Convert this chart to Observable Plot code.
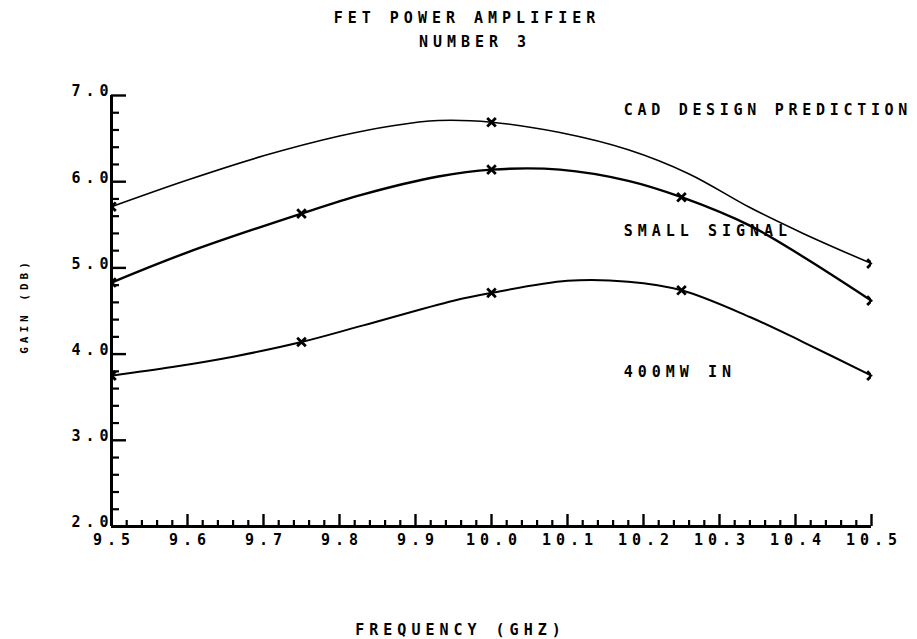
<!DOCTYPE html>
<html>
<head>
<meta charset="utf-8">
<script src="https://cdn.jsdelivr.net/npm/d3@7"></script>
<script src="https://cdn.jsdelivr.net/npm/@observablehq/plot@0.6"></script>
<style>
  body { margin: 0; background: #fff; }
  #wrap { position: relative; width: 917px; height: 639px; font-family: "DejaVu Sans Mono", monospace; font-weight: bold; color: #000; }
  .title { position: absolute; white-space: nowrap; font-size: 15px; letter-spacing: 5px; line-height: 1; transform: translate(-50%, -50%); }
  #chart { position: absolute; left: 0; top: 0; }
</style>
</head>
<body>
<div id="wrap">
  <div id="chart"></div>
  <div class="title" style="left:467px; top:18px;">FET POWER AMPLIFIER</div>
  <div class="title" style="left:475px; top:42px;">NUMBER 3</div>
</div>
<script>
// Gain (dB) vs frequency (GHz) for FET power amplifier #3

// CAD design prediction curve
const cadFreq = [9.50, 9.60, 9.70, 9.80, 9.87, 9.93, 10.00, 10.09, 10.18, 10.26, 10.34, 10.41, 10.50];
const cadGain = [5.71, 6.02, 6.30, 6.53, 6.65, 6.71, 6.69, 6.57, 6.37, 6.09, 5.70, 5.40, 5.05];

// Small-signal measured curve
const smallFreq = [9.50, 9.60, 9.75, 9.83, 9.93, 10.00, 10.09, 10.18, 10.25, 10.34, 10.41, 10.50];
const smallGain = [4.83, 5.18, 5.63, 5.85, 6.06, 6.14, 6.14, 6.01, 5.82, 5.49, 5.13, 4.62];

// 400 mW input curve
const p400Freq = [9.50, 9.58, 9.66, 9.75, 9.83, 9.95, 10.00, 10.10, 10.18, 10.25, 10.34, 10.41, 10.50];
const p400Gain = [3.75, 3.85, 3.97, 4.14, 4.33, 4.62, 4.71, 4.85, 4.84, 4.74, 4.43, 4.14, 3.75];

// Plotted measurement points (x symbols)
const cadMarkFreq = [9.50, 10.00, 10.50];
const cadMarkGain = [5.71, 6.69, 5.05];
const smallMarkFreq = [9.50, 9.75, 10.00, 10.25, 10.50];
const smallMarkGain = [4.83, 5.63, 6.14, 5.82, 4.62];
const p400MarkFreq = [9.50, 9.75, 10.00, 10.25, 10.50];
const p400MarkGain = [3.75, 4.14, 4.71, 4.74, 3.75];

// Curve annotations
const noteText = ["CAD DESIGN PREDICTION", "SMALL SIGNAL", "400MW IN"];
const noteFreq = [10.174, 10.174, 10.174];
const noteGain = [6.83, 5.43, 3.79];

// Axis ticks
const xMajor = [9.5, 9.6, 9.7, 9.8, 9.9, 10.0, 10.1, 10.2, 10.3, 10.4, 10.5];
const yMajor = [2, 3, 4, 5, 6, 7];

const W = 917, H = 639;
const mL = 111, mR = 46, mT = 95, mB = 113;
const frameW = W - mL - mR;
const frameH = H - mT - mB;

const xMinor = d3.range(0, 51).map(i => +(9.5 + i * 0.02).toFixed(2)).filter(v => !xMajor.some(m => Math.abs(m - v) < 1e-6));
const yMinor = d3.range(0, 26).map(i => +(2 + i * 0.2).toFixed(1)).filter(v => !yMajor.includes(v));

const rows = (fs, gs) => fs.map((f, i) => ({f, g: gs[i]}));
const cad = rows(cadFreq, cadGain);
const small = rows(smallFreq, smallGain);
const p400 = rows(p400Freq, p400Gain);
const marks = [
  ...rows(cadMarkFreq, cadMarkGain),
  ...rows(smallMarkFreq, smallMarkGain),
  ...rows(p400MarkFreq, p400MarkGain)
];
const notes = noteText.map((t, i) => ({t, f: noteFreq[i], g: noteGain[i]}));

const chart = Plot.plot({
  width: W,
  height: H,
  marginLeft: mL,
  marginRight: mR,
  marginTop: mT,
  marginBottom: mB,
  x: {domain: [9.5, 10.5]},
  y: {domain: [2, 7]},
  style: {fontFamily: "'DejaVu Sans Mono', monospace", fontWeight: "bold", color: "#000", background: "#fff", overflow: "visible", letterSpacing: "5px"},
  marks: [
    // tick labels
    Plot.axisX(xMajor, {tickSize: 0, tickPadding: 8, tickFormat: d => d.toFixed(1), fontSize: 15, dx: 2.5, label: null}),
    Plot.axisY(yMajor, {tickSize: 0, tickPadding: 3, tickFormat: d => d.toFixed(1), fontSize: 15, dy: -4, dx: 5, label: null}),
    // inward ticks
    Plot.tickY(yMajor, {y: d => d, insetRight: frameW - 15, strokeWidth: 2.4}),
    Plot.tickY(yMinor, {y: d => d, insetRight: frameW - 8, strokeWidth: 2.2}),
    Plot.tickX(xMajor, {x: d => d, insetTop: frameH - 12, strokeWidth: 2.4}),
    Plot.tickX(xMinor, {x: d => d, insetTop: frameH - 6, strokeWidth: 2.2}),
    // axis lines
    Plot.ruleX([9.5], {strokeWidth: 3}),
    Plot.ruleY([2], {strokeWidth: 3}),
    // curves
    Plot.line(cad, {x: "f", y: "g", curve: "catmull-rom", strokeWidth: 1.6}),
    Plot.line(small, {x: "f", y: "g", curve: "catmull-rom", strokeWidth: 2.4}),
    Plot.line(p400, {x: "f", y: "g", curve: "catmull-rom", strokeWidth: 2}),
    Plot.dot(marks, {x: "f", y: "g", symbol: "times", r: 4, stroke: "#000", strokeWidth: 2.8, clip: true}),
    // annotations
    Plot.text(notes, {x: "f", y: "g", text: "t", textAnchor: "start", fontSize: 15}),
    // axis titles
    Plot.text(["FREQUENCY (GHZ)"], {frameAnchor: "bottom", textAnchor: "middle", text: d => d, dx: -31, dy: 108, fontSize: 15}),
    Plot.text(["GAIN (DB)"], {frameAnchor: "left", textAnchor: "middle", text: d => d, rotate: -90, dx: -87, dy: -5, fontSize: 11})
  ]
});
// tighter spacing for the rotated y title and the longest annotation
d3.select(chart).selectAll("text").filter(function() { return this.textContent === "GAIN (DB)"; }).style("letter-spacing", "4px");
d3.select(chart).selectAll("text").filter(function() { return this.textContent === "CAD DESIGN PREDICTION"; }).style("letter-spacing", "4.7px");
document.getElementById("chart").appendChild(chart);
</script>
</body>
</html>
